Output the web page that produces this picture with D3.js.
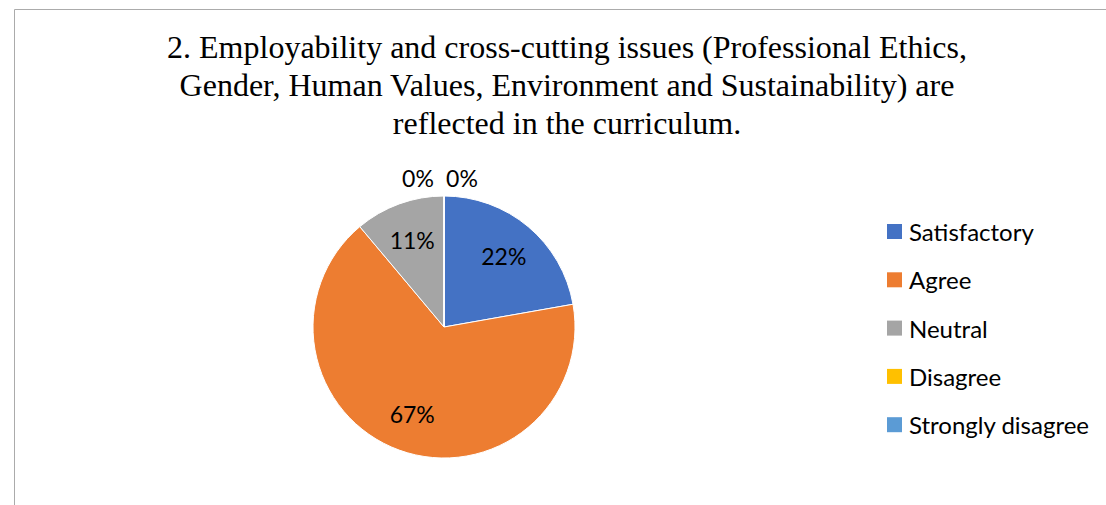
<!DOCTYPE html>
<html>
<head>
<meta charset="utf-8">
<script src="https://cdn.jsdelivr.net/npm/d3@7"></script>
<style>
  body { margin: 0; background: #fff; }
  svg { display: block; }
</style>
</head>
<body>
<script>
// chart data
const categories = ["Satisfactory", "Agree", "Neutral", "Disagree", "Strongly disagree"];
const values = [2, 6, 1, 0, 0];
const colors = ["#4472C4", "#ED7D31", "#A5A5A5", "#FFC000", "#5B9BD5"];
const titleLines = [
  "2. Employability and cross-cutting issues (Professional Ethics,",
  "Gender, Human Values, Environment and Sustainability) are",
  "reflected in the curriculum."
];

const width = 1106, height = 505;
const cx = 444, cy = 327, radius = 131;
const labelFont = "Lato, 'Open Sans', sans-serif";

const svg = d3.select("body").append("svg")
  .attr("width", width)
  .attr("height", height);

// chart frame (only top and left edges fall inside the picture)
svg.append("path")
  .attr("d", "M14.5," + height + " V9.5 H" + width)
  .attr("fill", "none")
  .attr("stroke", "#ababab")
  .attr("stroke-width", 1);

// title
svg.append("g")
  .selectAll("text")
  .data(titleLines)
  .join("text")
  .attr("x", 567)
  .attr("y", (d, i) => 58 + i * 38)
  .attr("text-anchor", "middle")
  .attr("font-family", "'Liberation Serif', 'Times New Roman', serif")
  .attr("font-size", 32)
  .attr("fill", "#000")
  .text(d => d);

const total = d3.sum(values);
const pie = d3.pie().sort(null).value(d => d.value);
const arcs = pie(categories.map((c, i) => ({ name: c, value: values[i], color: colors[i] })));

const arc = d3.arc().innerRadius(0).outerRadius(radius);
const labelArc = d3.arc().innerRadius(radius * 0.71).outerRadius(radius * 0.71);

const g = svg.append("g").attr("transform", "translate(" + cx + "," + cy + ")");

g.selectAll("path")
  .data(arcs)
  .join("path")
  .attr("d", arc)
  .attr("fill", d => d.data.color)
  .attr("stroke", "#fff")
  .attr("stroke-width", 1);

// percentage labels; empty slices get pushed outside the top of the pie
let zeroIdx = 0;
const zeroCount = values.filter(v => v === 0).length;
g.selectAll("text")
  .data(arcs)
  .join("text")
  .attr("transform", d => {
    if (d.data.value === 0) {
      const off = (zeroIdx++ - (zeroCount - 1) / 2) * 44;
      return "translate(" + (off - 4) + "," + (-radius - 18) + ")";
    }
    return "translate(" + labelArc.centroid(d) + ")";
  })
  .attr("text-anchor", "middle")
  .attr("dominant-baseline", "central")
  .attr("font-family", labelFont)
  .attr("font-size", 23)
  .attr("fill", "#000")
  .text(d => Math.round(d.data.value / total * 100) + "%");

// legend
const legend = svg.append("g")
  .selectAll("g")
  .data(categories)
  .join("g")
  .attr("transform", (d, i) => "translate(887," + (224 + i * 48.3) + ")");

legend.append("rect")
  .attr("width", 15)
  .attr("height", 15)
  .attr("fill", (d, i) => colors[i]);

legend.append("text")
  .attr("x", 22)
  .attr("y", 7.5)
  .attr("dominant-baseline", "central")
  .attr("font-family", labelFont)
  .attr("font-size", 24)
  .attr("fill", "#000")
  .text(d => d);
</script>
</body>
</html>
